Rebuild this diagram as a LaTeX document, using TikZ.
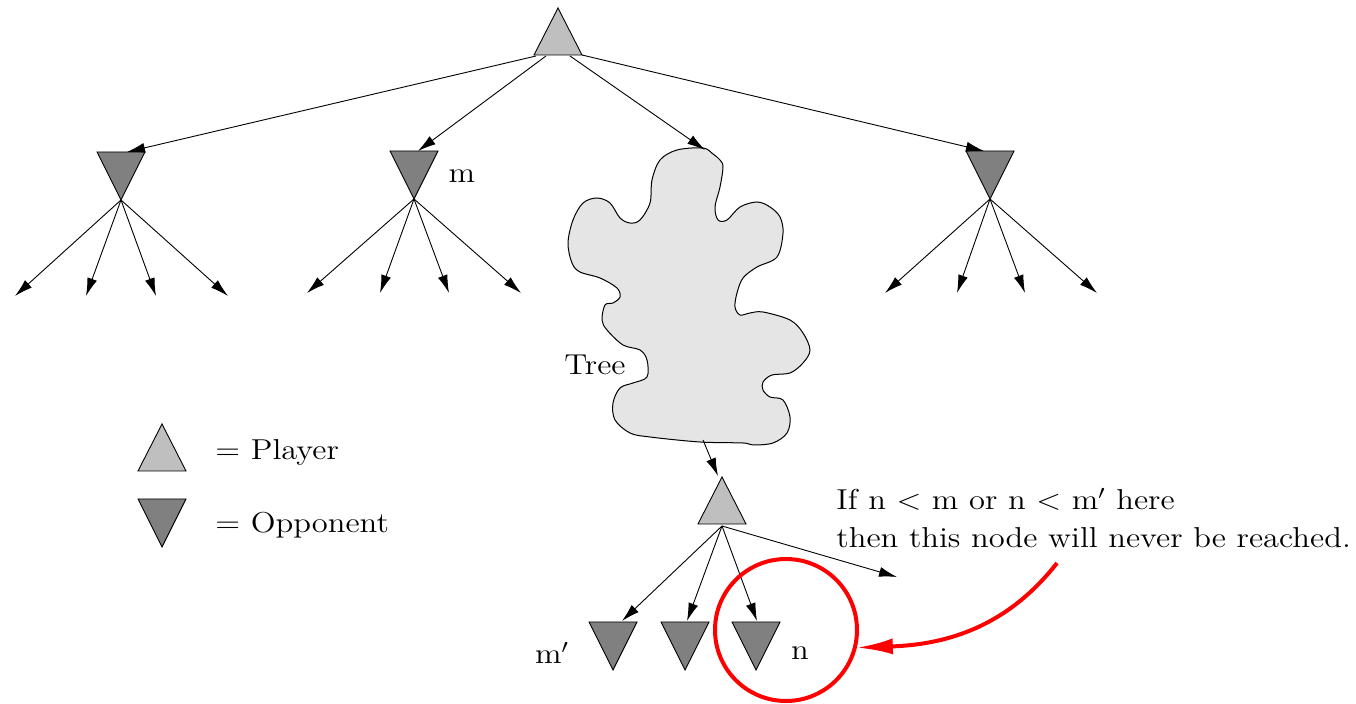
\documentclass[tikz,border=0pt]{standalone}
\usepackage{graphicx}
\usetikzlibrary{arrows.meta,calc}
\definecolor{pgray}{gray}{0.75}
\definecolor{ogray}{gray}{0.5}
\definecolor{cgray}{gray}{0.9}
\newcommand{\wtxt}[1]{\scalebox{1.13}[1]{#1}}
\begin{document}
\begin{tikzpicture}[x=0.5pt,y=-0.5pt,
  font=\fontsize{14.4}{18}\selectfont,
  line width=0.45pt,
  arr/.style={-{Latex[length=9pt,width=5pt]}},
  player/.pic={\draw[fill=pgray] (-24,0) -- (0,-47) -- (24,0) -- cycle;
     \coordinate (-apex) at (0,-47); \coordinate (-base) at (0,0);},
  opp/.pic={\draw[fill=ogray] (-24,0) -- (24,0) -- (0,48) -- cycle;
     \coordinate (-top) at (0,0); \coordinate (-apex) at (0,48);},
  lbl/.style={inner sep=0pt}
]
\useasboundingbox (0,0) rectangle (1356,704);
% top player
\pic (T) at (558,55) {player};
% opponents level 1
\pic (A) at (121,152) {opp};
\pic (B) at (414,151) {opp};
\pic (D) at (990,151) {opp};
% cloud
\draw[fill=cgray, line width=0.5pt] plot[smooth cycle, tension=0.55] coordinates {
 (703,148) (677,150) (660,160) (652,180) (650,203) (640,220) (630,223) (620,218)
 (610,203) (597,198) (583,203) (573,220) (568,243) (572,263) (580,272) (600,278)
 (617,288) (620,297) (613,303) (605,305) (602,320) (607,330) (623,345) (640,350)
 (647,360) (647,377) (633,383) (620,388) (613,403) (615,420) (630,433) (650,437)
 (700,442) (743,443) (753,445) (773,443) (787,433) (790,417) (783,400) (770,397)
 (763,390) (763,382) (772,375) (790,373) (803,363) (810,350) (803,333) (790,320)
 (763,312) (750,313) (740,315) (735,307) (737,293) (743,278) (757,267) (777,257)
 (783,233) (780,217) (770,207) (757,202) (740,207) (727,220) (718,220) (715,207)
 (720,187) (723,167) (720,160) (713,154)};
\coordinate (Ctop) at (705,150);
\coordinate (Cbot) at (703,440);
\node[lbl] (tree) at (595,365) {\wtxt{Tree}};
% arrows from top
\draw[arr] ($(T-base)+(-22,1)$) -- ($(A-top)+(6,0)$);
\draw[arr] ($(T-base)+(-12,1)$) -- ($(B-top)+(4,0)$);
\draw[arr] ($(T-base)+(12,1)$) -- (Ctop);
\draw[arr] ($(T-base)+(24,0)$) -- ($(D-top)+(-6,0)$);
% leaves
\foreach \x [count=\i] in {15,86,156,228} {\coordinate (a\i) at (\x,296);}
\foreach \x [count=\i] in {307,380,449,521} {\coordinate (b\i) at (\x,293);}
\foreach \x [count=\i] in {885,957,1025,1097} {\coordinate (d\i) at (\x,293);}
\foreach \i in {1,...,4} {
  \draw[arr] (A-apex) -- (a\i);
  \draw[arr] (B-apex) -- (b\i);
  \draw[arr] (D-apex) -- (d\i);
}
\node[lbl] (lm) at (462,176) {\wtxt{m}};
% lower part
\pic (P) at (722,524) {player};
\draw[arr] (Cbot) -- ($(P-apex)+(-4,-1)$);
\pic (E) at (613,622) {opp};
\pic (F) at (685,622) {opp};
\pic (G) at (756,622) {opp};
\coordinate (free) at (897,577);
\draw[arr] ($(P-base)+(0,2)$) -- ($(E-top)+(9,-1)$);
\draw[arr] ($(P-base)+(0,2)$) -- ($(F-top)+(2,-1)$);
\draw[arr] ($(P-base)+(0,2)$) -- ($(G-top)+(1,-1)$);
\draw[arr] ($(P-base)+(0,2)$) -- (free);
\node[lbl] (lmp) at (552,653) {\wtxt{m$'$}};
\node[lbl] (ln) at (800,653) {\wtxt{n}};
% red circle and arrow
\node[circle, draw=red, line width=2pt, minimum size=71pt, inner sep=0pt] (circ) at (786,630) {};
\coordinate (rs) at (1057,563);
\draw[red, line width=2pt, -{Latex[length=18pt,width=8pt]}] (rs) to[out=-128,in=2] (circ.-14);
\node[anchor=base west, inner sep=0pt] (t1) at (836,510) {\wtxt{If n $<$ m or n $<$ m$'$ here}};
\node[anchor=base west, inner sep=0pt] (t2) at (836,548) {\wtxt{then this node will never be reached.}};
% legend
\pic (LP) at (162,471) {player};
\pic (LO) at (162,499) {opp};
\node[anchor=west, inner sep=0pt] (lp) at (215,452) {\wtxt{$=$ Player}};
\node[anchor=west, inner sep=0pt] (lo) at (215,525) {\wtxt{$=$ Opponent}};
\end{tikzpicture}
\end{document}
